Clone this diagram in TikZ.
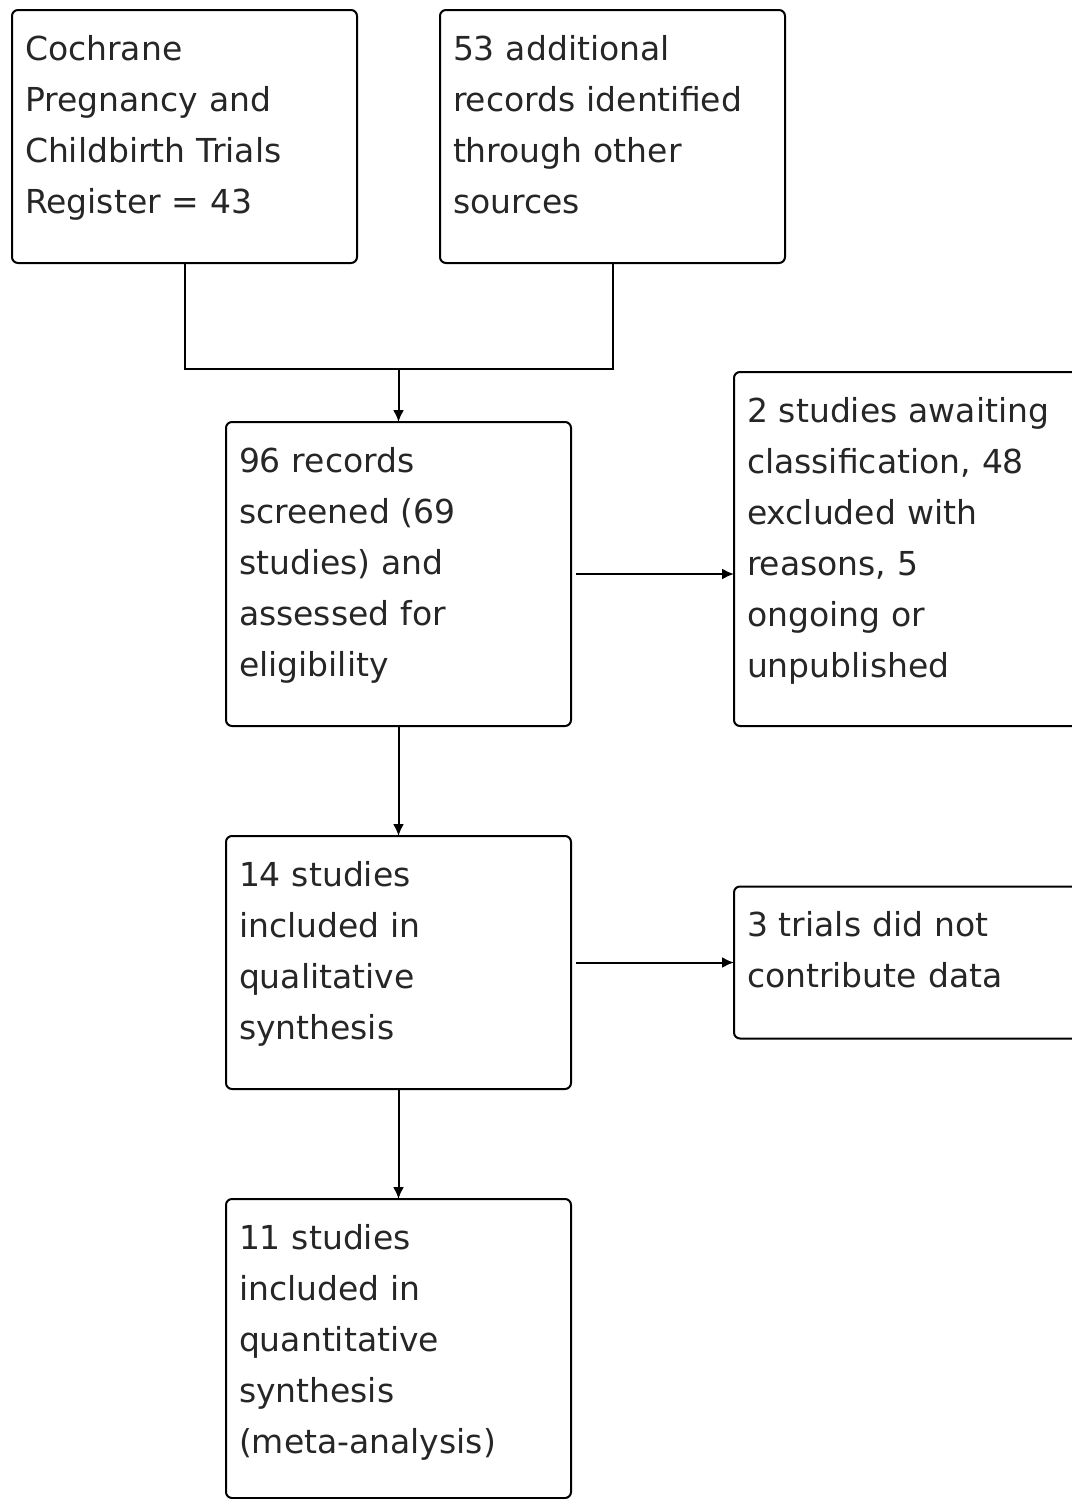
\documentclass[tikz,border=0pt]{standalone}
\usepackage{fontspec}
\setmainfont{DejaVu Sans}
\usetikzlibrary{arrows.meta,positioning,calc}
\tikzstyle{stage} = [rectangle, draw, rounded corners=6pt, text width=319pt, align=left,
    inner xsep=13pt, inner ysep=25pt, outer sep=0pt, text height=25pt, text=black!85,
    font=\fontsize{33pt}{51pt}\selectfont]

\begin{document}
\begin{tikzpicture}[-{Latex[length=12pt,width=11pt]},line width=2pt,
                    node distance=110pt]
  \useasboundingbox (0,0) rectangle (1071pt,-1499pt);
  \node[stage,anchor=north west,text depth=178pt] (reg) at (12pt,-10pt)
    {Cochrane\\Pregnancy and\\Childbirth Trials\\Register = 43};
  \node[stage,text depth=178pt] (other) [right=83pt of reg]
    {53 additional\\records identified\\through other\\sources};
  \coordinate (merge) at ([yshift=-106pt]$(reg.south)!.5!(other.south)$);
  \node[stage,text depth=229pt] (screen) [below=53pt of merge]
    {96 records\\screened (69\\studies) and\\assessed for\\eligibility};
  \node[stage,text depth=279pt] (excl) [right=163pt of screen.south east,anchor=south west]
    {2 studies awaiting\\classification, 48\\excluded with\\reasons, 5\\ongoing or\\unpublished};
  \node[stage,text depth=178pt] (qual) [below=of screen]
    {14 studies\\included in\\qualitative\\synthesis};
  \node[stage,text depth=77pt] (nodata) [right=163pt of qual]
    {3 trials did not\\contribute data};
  \node[stage,text depth=224pt] (quant) [below=of qual]
    {11 studies\\included in\\quantitative\\synthesis\\(meta-analysis)};

  \draw[-] (reg.south) |- (merge) -| (other.south);
  \draw (merge) -- (screen.north);
  \draw[shorten <=5pt] (screen.east) -- (screen.east -| excl.west);
  \draw (screen) -- (qual);
  \draw[shorten <=5pt] (qual.east) -- (qual.east -| nodata.west);
  \draw (qual) -- (quant);
\end{tikzpicture}
\end{document}
